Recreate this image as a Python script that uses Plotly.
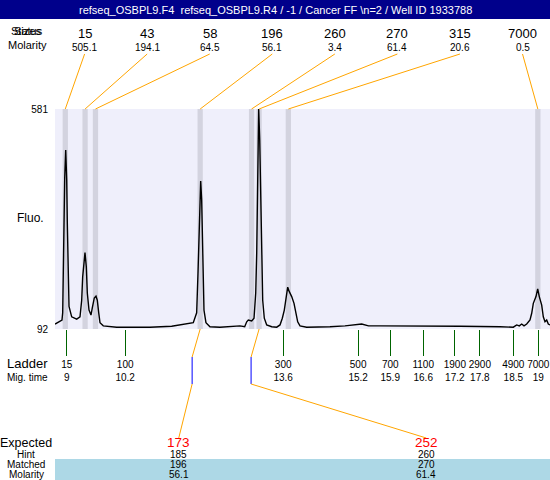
import plotly.graph_objects as go

# ---------------- data ----------------
mig_time = [8.752, 8.900, 8.915, 8.928, 8.943, 8.958, 8.979, 9.000, 9.013, 9.028, 9.049,
            9.106, 9.212, 9.282, 9.318, 9.339, 9.367, 9.388, 9.416, 9.437, 9.473, 9.515,
            9.543, 9.585, 9.621, 9.649, 9.679, 9.706, 9.776, 10.060, 10.766, 11.226,
            11.684, 11.756, 11.784, 11.805, 11.826, 11.841, 11.862, 11.875, 11.890, 11.911,
            11.953, 12.038, 12.250, 12.462, 12.674, 12.774, 12.817, 12.851, 12.923, 12.972,
            13.008, 13.029, 13.050, 13.063, 13.071, 13.093, 13.114, 13.135, 13.156, 13.190,
            13.241, 13.347, 13.453, 13.523, 13.572, 13.614, 13.650, 13.686, 13.720, 13.771,
            13.820, 13.862, 13.898, 13.947, 14.089, 14.583, 14.901, 15.255, 15.400, 15.643,
            16.491, 17.340, 18.188, 18.470, 18.542, 18.597, 18.648, 18.697, 18.754, 18.824,
            18.860, 18.894, 18.951, 18.987, 19.021, 19.072, 19.106, 19.142, 19.178, 19.212,
            19.248]
fluo = [103, 112, 128, 230, 328, 428, 490, 424, 328, 230, 142,
        119, 114, 119, 156, 208, 253, 262, 230, 172, 134, 123,
        139, 161, 165, 156, 128, 106, 99, 96, 96, 98,
        106, 128, 216, 305, 394, 421, 379, 305, 216, 134,
        106, 97, 96, 98, 99, 97, 108, 112, 110, 116,
        172, 261, 379, 512, 581, 512, 379, 268, 156, 116,
        101, 97, 96, 101, 116, 134, 156, 185, 175, 164,
        149, 127, 108, 99, 96, 97, 99, 103, 99, 99,
        99, 98, 97, 96, 101, 99, 103, 99, 103, 112,
        127, 149, 164, 181, 164, 145, 119, 108, 112, 103,
        101]

peak_times = [8.97, 9.39, 9.61, 11.83, 12.92, 13.08, 13.70, 18.99]
peak_sizes = [15, 43, 58, 196, 260, 270, 315, 7000]
peak_molarity = [505.1, 194.1, 64.5, 56.1, 3.4, 61.4, 20.6, 0.5]

ladder_sizes = [15, 100, 300, 500, 700, 1100, 1900, 2900, 4900, 7000]
ladder_times = [9.00, 10.24, 13.59, 15.18, 15.86, 16.56, 17.23, 17.76, 18.47, 19.00]

expected_sizes = [173, 252]
expected_times = [11.66, 12.91]
hint_sizes = [185, 260]
matched_sizes = [196, 270]
matched_molarity = [56.1, 61.4]

title_text = "refseq_OSBPL9.F4&nbsp; refseq_OSBPL9.R4 / -1 / Cancer FF \\n=2 / Well ID 1933788"

# ---------------- layout helpers ----------------
W, H = 550, 480
L, R, T, B = 55, 0, 109, 151
X_RANGE = [8.752, 19.248]
Y_RANGE = [92, 581]
PW = W - L - R
PH = H - T - B
FONT = "Liberation Sans, Arial, sans-serif"
ORANGE = "#FFA500"


def px(x):
    return (x - L) / PW


def py(y):
    return (H - B - y) / PH


def p2t(p):
    return X_RANGE[0] + p * (X_RANGE[1] - X_RANGE[0])


def fmt_time(t):
    s = f"{t:.1f}"
    return s[:-2] if s.endswith(".0") else s


def label(text, x, y, size=10, color="black"):
    return dict(text=text, xref="paper", yref="paper", x=x, y=y, xanchor="center",
                yanchor="middle", showarrow=False, font=dict(size=size, color=color))


fig = go.Figure()
fig.add_trace(go.Scatter(x=mig_time, y=fluo, mode="lines",
                         line=dict(color="black", width=1.4), hoverinfo="skip",
                         showlegend=False))

shapes = []
annotations = []

# title bar
shapes.append(dict(type="rect", xref="paper", yref="paper", x0=px(0), x1=px(W),
                   y0=py(19), y1=py(0), fillcolor="#00008B", line=dict(width=0), layer="above"))
annotations.append(label(title_text, px(275), py(10), 11, "white"))

# peak bands
for t in peak_times:
    shapes.append(dict(type="rect", xref="x", yref="paper", x0=t - 0.056, x1=t + 0.056,
                       y0=0, y1=1, fillcolor="#D3D3DF", line=dict(width=0), layer="below"))

# top labels and connectors
slot0, slot_step = px(84.6), 62.56 / PW
for i, (t, s, m) in enumerate(zip(peak_times, peak_sizes, peak_molarity)):
    p = slot0 + i * slot_step
    annotations.append(label(str(s), p, py(33), 13))
    annotations.append(label(f"{m}", p, py(47), 10))
    shapes.append(dict(type="line", xref="x", yref="paper", x0=t, y0=1, x1=p2t(p), y1=py(54),
                       line=dict(color=ORANGE, width=1)))

# left labels
for txt in ["Sizes", "Status"]:
    annotations.append(label(txt, px(27), py(31), 11))
annotations.append(label("Molarity", px(27), py(45), 11))
annotations.append(label("Fluo.", px(30), py(218), 12))
annotations.append(label("Ladder", px(27), py(363), 13))
annotations.append(label("Mig. time", px(27), py(377), 10))

# expected / matched connectors
cols = [0.25, 0.75]
for i, (e, et, h, ms, mm) in enumerate(zip(expected_sizes, expected_times, hint_sizes,
                                            matched_sizes, matched_molarity)):
    mt = peak_times[peak_sizes.index(ms)]
    shapes.append(dict(type="line", xref="x", yref="paper", x0=mt, y0=0, x1=et, y1=py(357),
                       line=dict(color=ORANGE, width=1)))
    shapes.append(dict(type="line", xref="x", yref="paper", x0=et, y0=py(357), x1=et, y1=py(384),
                       line=dict(color="#0000FF", width=1)))
    shapes.append(dict(type="line", xref="x", yref="paper", x0=et, y0=py(384), x1=p2t(cols[i]),
                       y1=py(438), line=dict(color=ORANGE, width=1)))
    annotations.append(label(str(e), cols[i], py(442.5), 13.5, "#FF0000"))
    annotations.append(label(str(h), cols[i], py(454.5), 10))
    annotations.append(label(str(ms), cols[i], py(464.5), 10))
    annotations.append(label(f"{mm}", cols[i], py(474.5), 10))

shapes.append(dict(type="rect", xref="paper", yref="paper", x0=0, x1=1, y0=py(480), y1=py(459),
                   fillcolor="#ADD8E6", line=dict(width=0), layer="below"))
for txt, yy, fs in [("Expected", 442.5, 12.5), ("Hint", 454.5, 10), ("Matched", 464.5, 10),
                    ("Molarity", 474.5, 10)]:
    annotations.append(label(txt, px(26), py(yy), fs))

fig.update_layout(
    width=W, height=H,
    margin=dict(l=L, r=R, t=T, b=B, pad=0),
    paper_bgcolor="white", plot_bgcolor="#EFEFFB",
    font=dict(family=FONT, color="black", size=10),
    showlegend=False,
    shapes=shapes, annotations=annotations,
    xaxis=dict(range=X_RANGE, showgrid=False, zeroline=False, showline=False,
               tickmode="array", tickvals=ladder_times,
               ticktext=[f"{s}<br>{fmt_time(t)}" for s, t in zip(ladder_sizes, ladder_times)],
               ticks="outside", ticklen=26, tickcolor="#006400", tickwidth=1,
               tickangle=0, tickfont=dict(size=10)),
    yaxis=dict(range=Y_RANGE, showgrid=False, zeroline=False, showline=False,
               tickmode="array", tickvals=[Y_RANGE[0], Y_RANGE[1]],
               ticktext=[str(Y_RANGE[0]), str(Y_RANGE[1])], ticks="",
               ticklabelstandoff=6, tickfont=dict(size=10)),
)

fig.write_html("out.html", config={"displayModeBar": False},
               post_script="document.body.style.margin='0px';")
